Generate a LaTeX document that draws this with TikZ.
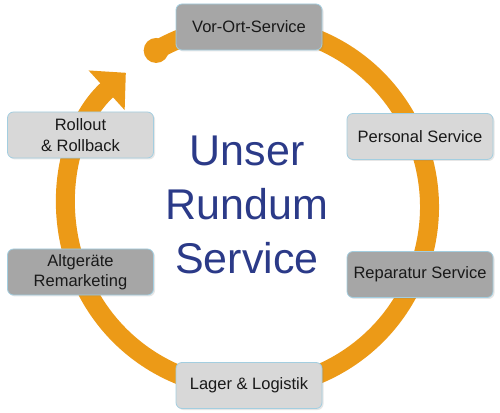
\documentclass[tikz,border=0pt]{standalone}
\usepackage{fontspec}
\setmainfont{Liberation Sans}
\usetikzlibrary{arrows.meta}
\usetikzlibrary{shadows}

\definecolor{ringorange}{HTML}{EC9A17}
\definecolor{navy}{HTML}{2B3A88}
\definecolor{boxlight}{HTML}{D8D8D8}
\definecolor{boxdark}{HTML}{A6A6A6}
\definecolor{boxline}{HTML}{A3CEE0}

\tikzset{
  box/.style={draw=boxline, line width=0.8pt, rounded corners=6pt,
    minimum width=146pt, minimum height=46pt, inner sep=0pt, align=center,
    text=black!90, font=\fontsize{16.5}{20.5}\selectfont,
    drop shadow={shadow xshift=1.5pt, shadow yshift=-1.5pt, opacity=0.2, fill=black!50}},
  light/.style={box, fill=boxlight},
  dark/.style={box, fill=boxdark}
}

\begin{document}
\begin{tikzpicture}[x=1pt,y=1pt]
        \useasboundingbox (0,0) rectangle (500,412);
        \coordinate (c) at (248,205);
        \path (c) ++(120.4:181.5) coordinate (start);

        % ring with arrow
        \draw[ringorange, line width=19pt, -{Triangle[width=52pt,length=26pt]}]
        (start) arc (120.4:-227.7:181.5);
        \fill[ringorange] (start) circle (12.5pt);

        \node[dark] (vorort) at (249,385) {Vor-Ort-Service};
        \node[light] (personal) at (420,275.5) {Personal Service};
        \node[dark] (reparatur) at (420,137.5) {Reparatur Service};
        \node[light] (lager) at (249,26.5) {Lager \& Logistik};
        \node[dark] (altgeraete) at (80.5,140) {Altgeräte\\Remarketing};
        \node[light] (rollout) at (80.5,277) {Rollout\\\& Rollback};

        \node[text=navy, align=center, inner sep=0pt, font=\fontsize{43}{54}\selectfont]
        (title) at (247,207) {Unser\\Rundum\\Service};
      \end{tikzpicture}
\end{document}
